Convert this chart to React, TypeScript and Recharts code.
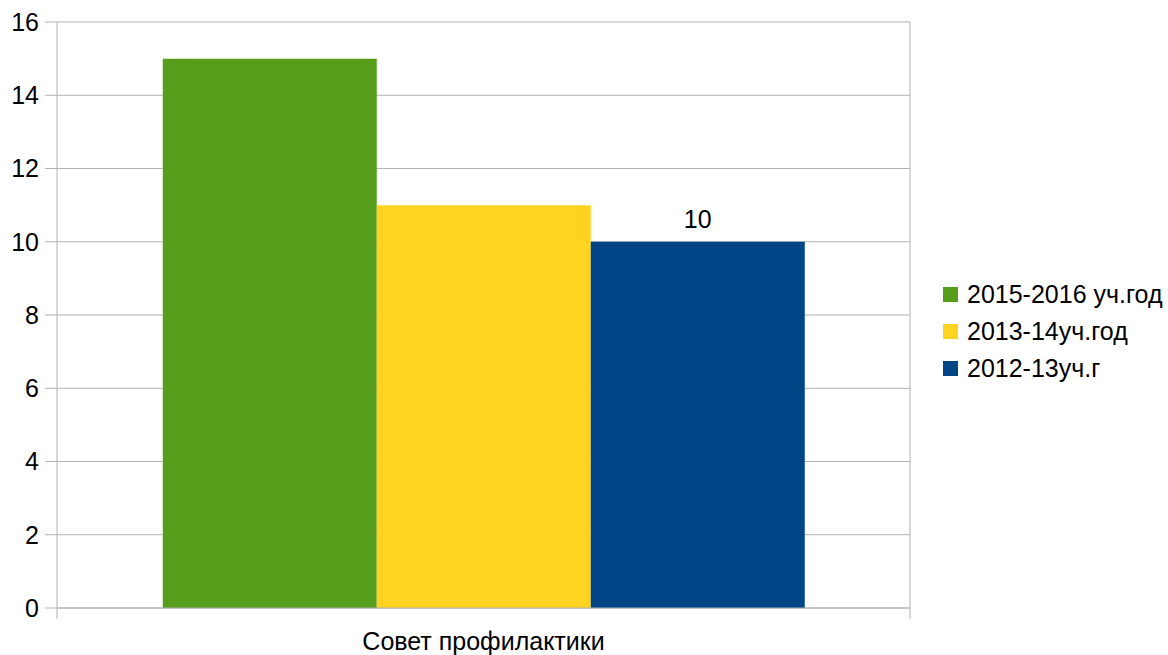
import { Bar, BarChart, CartesianGrid, LabelList, XAxis, YAxis, usePlotArea } from 'recharts'

const categories = ['Совет профилактики']
const series2015 = [15]
const series2013 = [11]
const series2012 = [10]
const yTicks = [0, 2, 4, 6, 8, 10, 12, 14, 16]

const seriesMeta = [
  { key: 's2015', name: '2015-2016 уч.год', color: '#579d1c' },
  { key: 's2013', name: '2013-14уч.год', color: '#ffd320' },
  { key: 's2012', name: '2012-13уч.г', color: '#004586' },
]

const data = categories.map((name, i) => ({
  name,
  s2015: series2015[i],
  s2013: series2013[i],
  s2012: series2012[i],
}))

const FONT = '"Liberation Sans", Arial, sans-serif'
const GRID = '#b3b3b3'

// right border of the plot and the small ticks under its edges
function PlotFrame() {
  const area = usePlotArea()
  if (!area) return null
  const { x, y, width, height } = area
  const bottom = y + height
  return (
    <g>
      <line x1={x + width} y1={y} x2={x + width} y2={bottom + 11} stroke={GRID} strokeWidth={1} />
      <line x1={x} y1={bottom} x2={x} y2={bottom + 11} stroke={GRID} strokeWidth={1} />
    </g>
  )
}

function LegendBox() {
  return (
    <div
      style={{
        position: 'absolute',
        left: 943,
        top: 276,
        fontFamily: FONT,
        fontSize: 25,
        color: '#000',
      }}
    >
      {seriesMeta.map((s) => (
        <div key={s.key} style={{ display: 'flex', alignItems: 'center', height: 37, whiteSpace: 'nowrap' }}>
          <span style={{ width: 15, height: 15, background: s.color, marginRight: 9, display: 'inline-block' }} />
          <span>{s.name}</span>
        </div>
      ))}
    </div>
  )
}

export default function App() {
  return (
    <div style={{ position: 'absolute', left: 0, top: 0, width: 1168, height: 655, background: '#fff' }}>
      <BarChart
        width={1168}
        height={655}
        data={data}
        margin={{ top: 22, right: 258, left: 0, bottom: 0 }}
        barCategoryGap="12.4%"
        barGap={0}
        style={{ fontFamily: FONT }}
      >
        <CartesianGrid vertical={false} stroke={GRID} />
        <XAxis
          dataKey="name"
          height={47}
          tickLine={false}
          axisLine={{ stroke: GRID }}
          tickSize={0}
          tickMargin={24}
          tick={{ fill: '#000', fontSize: 25 }}
        />
        <YAxis
          width={57}
          domain={[0, 16]}
          ticks={yTicks}
          interval={0}
          tickSize={12}
          tickMargin={6}
          axisLine={{ stroke: GRID }}
          tickLine={{ stroke: GRID }}
          tick={{ fill: '#000', fontSize: 25 }}
        />
        {seriesMeta.map((s) => (
          <Bar key={s.key} dataKey={s.key} name={s.name} fill={s.color} isAnimationActive={false}>
            {s.key === 's2012' && (
              <LabelList dataKey={s.key} position="top" offset={14} fill="#000" fontSize={25} />
            )}
          </Bar>
        ))}
        <PlotFrame />
      </BarChart>
      <LegendBox />
    </div>
  )
}
